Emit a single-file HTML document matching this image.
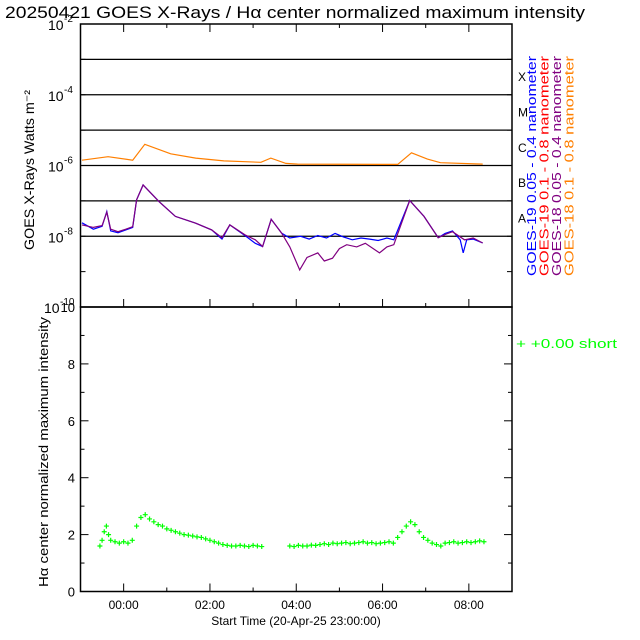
<!DOCTYPE html>
<html><head><meta charset="utf-8"><style>
body{margin:0;background:#fff}
svg{display:block;font-family:"Liberation Sans",sans-serif}
</style></head><body>
<svg id="c" width="640" height="640" xmlns="http://www.w3.org/2000/svg">
<rect width="640" height="640" fill="#fff"/>
<text x="5" y="18" font-size="17" textLength="580" lengthAdjust="spacingAndGlyphs">20250421 GOES X-Rays / Hα center normalized maximum intensity</text>
<g id="g"></g>
</svg>
<script>
// ---- data ----
const orangeT=[-0.965,-0.36,0.21,0.49,1.09,1.67,2.32,3.18,3.41,3.76,4.03,6.35,6.67,7.04,7.34,8.32];
const orangeLog=[-5.85,-5.75,-5.85,-5.40,-5.67,-5.79,-5.87,-5.91,-5.79,-5.94,-5.96,-5.97,-5.64,-5.82,-5.92,-5.96];
const purpleT=[-0.965,-0.7,-0.5,-0.39,-0.3,-0.13,0.05,0.21,0.30,0.45,0.82,1.20,1.67,2.04,2.28,2.46,2.81,3.05,3.22,3.42,3.66,3.85,4.08,4.25,4.50,4.65,4.84,5.0,5.17,5.4,5.6,5.93,6.1,6.26,6.63,6.96,7.29,7.45,7.62,7.9,8.1,8.32];
const purpleLog=[-7.68,-7.75,-7.70,-7.32,-7.80,-7.87,-7.80,-7.73,-6.97,-6.55,-7.02,-7.44,-7.63,-7.82,-8.04,-7.68,-7.96,-8.10,-8.29,-7.52,-7.91,-8.30,-8.95,-8.60,-8.47,-8.70,-8.62,-8.35,-8.24,-8.30,-8.20,-8.47,-8.30,-8.24,-6.99,-7.44,-8.04,-7.95,-7.87,-8.10,-8.05,-8.19];
const blueT=[-0.965,-0.7,-0.5,-0.39,-0.3,-0.13,0.05,0.21,0.30,0.45,0.82,1.20,1.67,2.04,2.28,2.46,2.81,3.05,3.22,3.42,3.66,3.85,4.1,4.3,4.5,4.7,4.9,5.1,5.3,5.5,5.7,5.9,6.1,6.26,6.63,6.96,7.29,7.45,7.62,7.8,7.87,7.95,8.1,8.32];
const blueLog=[-7.62,-7.80,-7.72,-7.30,-7.85,-7.90,-7.82,-7.75,-6.97,-6.55,-7.02,-7.44,-7.63,-7.82,-8.08,-7.68,-7.98,-8.20,-8.29,-7.52,-7.91,-8.05,-8.00,-8.08,-7.98,-8.05,-7.92,-8.02,-8.10,-8.05,-8.08,-8.12,-8.05,-8.10,-6.99,-7.44,-8.04,-7.92,-7.85,-8.10,-8.47,-8.10,-8.08,-8.19];
const haT=[-0.55,-0.5,-0.45,-0.4,-0.35,-0.3,-0.2,-0.1,0,0.1,0.2,0.3,0.4,0.5,0.6,0.7,0.8,0.9,1.0,1.1,1.2,1.3,1.4,1.5,1.6,1.7,1.8,1.9,2.0,2.1,2.2,2.3,2.4,2.5,2.6,2.7,2.8,2.9,3.0,3.1,3.2,3.85,3.95,4.05,4.15,4.25,4.35,4.45,4.55,4.65,4.75,4.85,4.95,5.05,5.15,5.25,5.35,5.45,5.55,5.65,5.75,5.85,5.95,6.05,6.15,6.25,6.35,6.45,6.55,6.65,6.75,6.85,6.95,7.05,7.15,7.25,7.35,7.45,7.55,7.65,7.75,7.85,7.95,8.05,8.15,8.25,8.35];
const haV=[1.6,1.8,2.1,2.3,2.0,1.8,1.75,1.7,1.75,1.7,1.8,2.3,2.6,2.7,2.55,2.45,2.35,2.3,2.2,2.15,2.1,2.05,2.0,1.98,1.95,1.92,1.9,1.85,1.8,1.75,1.7,1.65,1.62,1.6,1.6,1.62,1.6,1.58,1.62,1.6,1.58,1.6,1.58,1.62,1.6,1.6,1.63,1.62,1.65,1.68,1.65,1.7,1.68,1.7,1.72,1.68,1.7,1.72,1.75,1.7,1.72,1.68,1.7,1.72,1.75,1.7,1.9,2.1,2.3,2.45,2.35,2.1,1.9,1.8,1.7,1.65,1.6,1.7,1.72,1.75,1.7,1.72,1.75,1.72,1.75,1.78,1.75];
const xTickLabels=["00:00","02:00","04:00","06:00","08:00"];
const xTickHours=[0,2,4,6,8];
const decades=[-2,-4,-6,-8,-10];
const haTicks=[0,2,4,6,8,10];
// ---- axes ----
const X0=80.5,X1=512,T0=-1,T1=9;
const xs=t=>X0+(t-T0)/(T1-T0)*(X1-X0);
const TOP=24,MID=307,BOT=591.5;
const yl=l=>TOP+(-2-l)/8*(MID-TOP);
const yh=v=>BOT-v/10*(BOT-MID);
const NS="http://www.w3.org/2000/svg",G=document.getElementById('g');
function mk(tag,a,txt){const e=document.createElementNS(NS,tag);for(const k in a)e.setAttribute(k,a[k]);if(txt!==undefined)e.textContent=txt;G.appendChild(e);return e;}
let e=mk('rect',{x:X0,y:TOP,width:X1-X0,height:MID-TOP,fill:'none',stroke:'#000','stroke-width':1.5});

e=mk('rect',{x:X0,y:MID,width:X1-X0,height:BOT-MID,fill:'none',stroke:'#000','stroke-width':1.5});

for(let l=-3;l>=-8;l--){e=mk('line',{x1:X0,x2:X1,y1:yl(l),y2:yl(l),stroke:'#000','stroke-width':1.3});
}
for(let l=-2;l>=-10;l--){mk('line',{x1:X0,x2:X0+5,y1:yl(l),y2:yl(l),stroke:'#000'});mk('line',{x1:X1-5,x2:X1,y1:yl(l),y2:yl(l),stroke:'#000'});}
decades.forEach(d=>{const sx=d===-10?44:48;
e=mk('text',{x:sx,y:yl(d)+6,'font-size':14},'10');

mk('text',{x:sx+16,y:yl(d)-2,'font-size':10},'-'+(-d));});
[['X',-3.5],['M',-4.5],['C',-5.5],['B',-6.5],['A',-7.5]].forEach(c=>{e=mk('text',{x:518,y:yl(c[1])+4,'font-size':12},c[0]);
});
for(let h=-1;h<=9;h++){const maj=h%2===0,L=maj?8:4;
[MID,BOT].forEach(b=>mk('line',{x1:xs(h),x2:xs(h),y1:b,y2:b-L,stroke:'#000'}));
mk('line',{x1:xs(h),x2:xs(h),y1:TOP,y2:TOP+L,stroke:'#000'});}
xTickHours.forEach((h,i)=>{e=mk('text',{x:xs(h),y:609,'font-size':12,'text-anchor':'middle'},xTickLabels[i]);
});
e=mk('text',{x:296,y:625,'font-size':12,'text-anchor':'middle'},'Start Time (20-Apr-25 23:00:00)');

for(let v=0;v<=10;v++){const L=v%2===0?8:4;mk('line',{x1:X0,x2:X0+L,y1:yh(v),y2:yh(v),stroke:'#000'});mk('line',{x1:X1-L,x2:X1,y1:yh(v),y2:yh(v),stroke:'#000'});}
haTicks.forEach(v=>{e=mk('text',{x:75,y:yh(v)+5,'font-size':13,'text-anchor':'end'},String(v));
});
e=mk('text',{x:0,y:0,'font-size':14,'text-anchor':'middle',textLength:160,lengthAdjust:'spacingAndGlyphs',transform:`translate(34,170) rotate(-90)`},'GOES X-Rays Watts m⁻²');

e=mk('text',{x:0,y:0,'font-size':13,'text-anchor':'middle',textLength:270,lengthAdjust:'spacingAndGlyphs',transform:`translate(48,452) rotate(-90)`},'Hα center normalized maximum intensity');

function line(T,L,col,name){const d=T.map((t,i)=>(i?'L':'M')+xs(t).toFixed(1)+','+yl(L[i]).toFixed(1)).join('');
const p=mk('path',{d:d,fill:'none',stroke:col,'stroke-width':1.2});
}
line(orangeT,orangeLog,'#ff7f00','goes18-long-line');
line(blueT,blueLog,'#0000ff','goes19-short-line');
line(purpleT,purpleLog,'#800080','goes18-short-line');
haT.forEach((t,i)=>{const x=xs(t),y=yh(haV[i]);
const p=mk('path',{d:`M${x-2.5},${y}h5M${x},${y-2.5}v5`,stroke:'#00ff00','stroke-width':1.2});
});
const leg=[['GOES-19 0.05 - 0.4 nanometer','#0000ff'],['GOES-19 0.1 - 0.8 nanometer','#ff0000'],['GOES-18 0.05 - 0.4 nanometer','#800080'],['GOES-18 0.1 - 0.8 nanometer','#ff7f00']];
leg.forEach((l,i)=>{e=mk('text',{x:0,y:0,'font-size':13,fill:l[1],textLength:220,lengthAdjust:'spacingAndGlyphs',transform:`translate(536+${0},276) rotate(-90)`.replace('536+0',String(536+i*12.5))},l[0]);
});
e=mk('text',{x:516,y:348,'font-size':13,fill:'#00ff00',textLength:101,lengthAdjust:'spacingAndGlyphs'},'+  +0.00 short');

</script>
</body></html>
